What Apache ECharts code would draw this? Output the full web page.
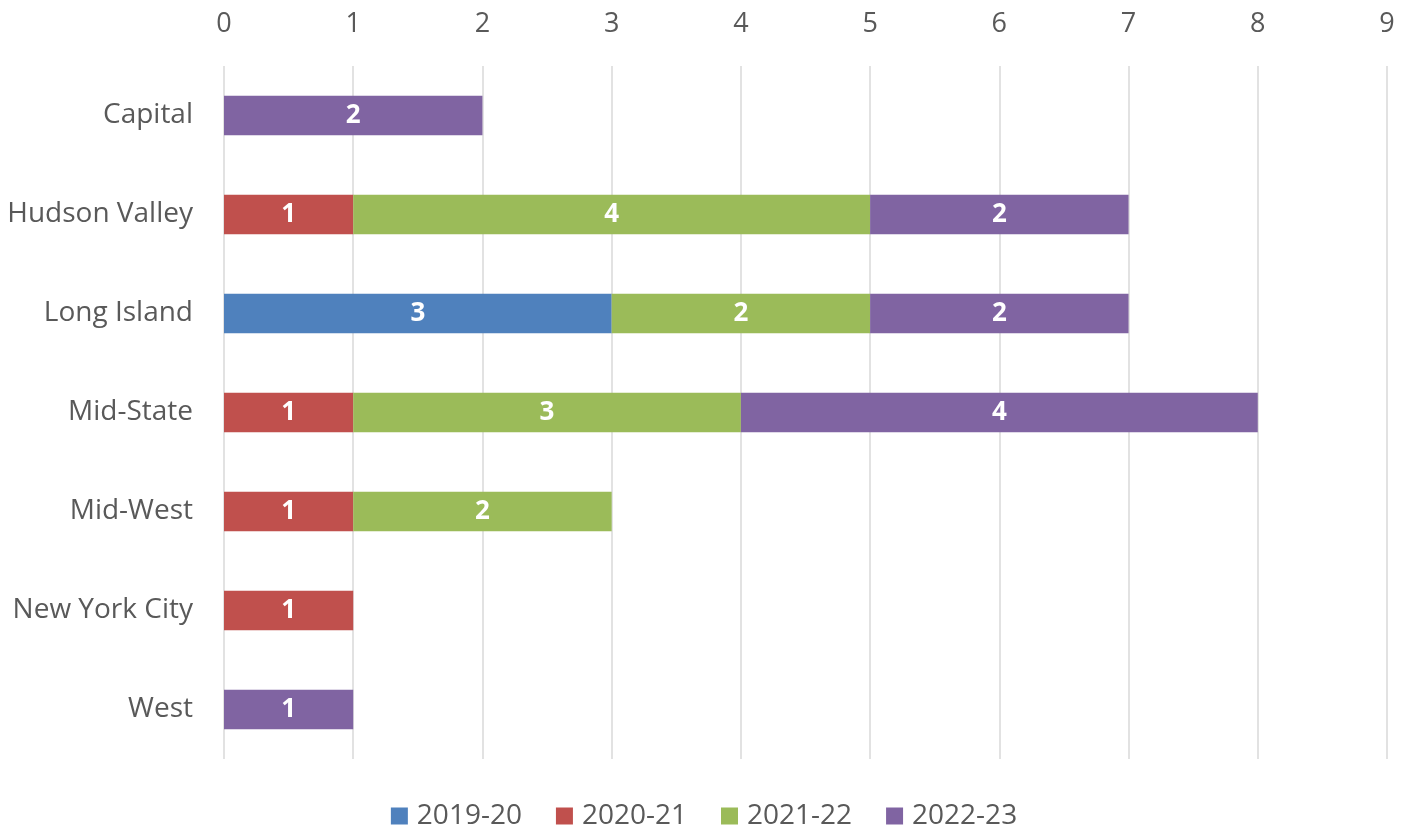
<!DOCTYPE html>
<html>
<head>
<meta charset="utf-8">
<script src="https://cdn.jsdelivr.net/npm/echarts@6/dist/echarts.min.js"></script>
<style>
  html, body { margin: 0; padding: 0; background: #fff; }
  #chart { width: 1408px; height: 831px; }
</style>
</head>
<body>
<div id="chart"></div>
<script>
// Regions listed top to bottom
const regions = ['Capital', 'Hudson Valley', 'Long Island', 'Mid-State', 'Mid-West', 'New York City', 'West'];
const seasons = ['2019-20', '2020-21', '2021-22', '2022-23'];
const colors = ['#4F81BD', '#C0504D', '#9BBB59', '#8064A2'];

// Counts per region for each season (0 = none)
const s2019_20 = [0, 0, 3, 0, 0, 0, 0];
const s2020_21 = [0, 1, 0, 1, 1, 1, 0];
const s2021_22 = [0, 4, 2, 3, 2, 0, 0];
const s2022_23 = [2, 2, 2, 4, 0, 0, 1];

const xTicks = { min: 0, max: 9, interval: 1 };

const seriesValues = [s2019_20, s2020_21, s2021_22, s2022_23];
const font = '"Open Sans", "Noto Sans", sans-serif';

const chart = echarts.init(document.getElementById('chart'));
chart.setOption({
  animation: false,
  backgroundColor: '#ffffff',
  color: colors,
  grid: { left: 224, right: 21, top: 66, bottom: 72, containLabel: false },
  legend: {
    top: 797,
    left: 'center',
    itemWidth: 17,
    itemHeight: 17,
    itemGap: 34,
    icon: 'rect',
    textStyle: { color: '#595959', fontSize: 28, fontFamily: font, padding: [0, 0, 0, 4] },
    data: seasons
  },
  xAxis: {
    type: 'value',
    position: 'top',
    min: xTicks.min,
    max: xTicks.max,
    interval: xTicks.interval,
    axisLine: { show: false },
    axisTick: { show: false },
    axisLabel: { color: '#595959', fontSize: 27, fontFamily: font, margin: 28 },
    splitLine: { lineStyle: { color: '#d9d9d9', width: 1.5 } }
  },
  yAxis: {
    type: 'category',
    inverse: true,
    data: regions,
    axisLine: { show: false },
    axisTick: { show: false },
    axisLabel: { color: '#595959', fontSize: 28, fontFamily: font, margin: 31 },
    splitLine: { show: false }
  },
  series: seasons.map((name, i) => ({
    name: name,
    type: 'bar',
    stack: 'total',
    barCategoryGap: '60%',
    data: seriesValues[i].map(v => (v === 0 ? null : v)),
    itemStyle: { color: colors[i] },
    label: {
      show: true,
      position: 'inside',
      color: '#ffffff',
      fontWeight: 'bold',
      fontSize: 26,
      fontFamily: font,
      formatter: p => (p.value ? p.value : '')
    }
  }))
});
</script>
</body>
</html>
